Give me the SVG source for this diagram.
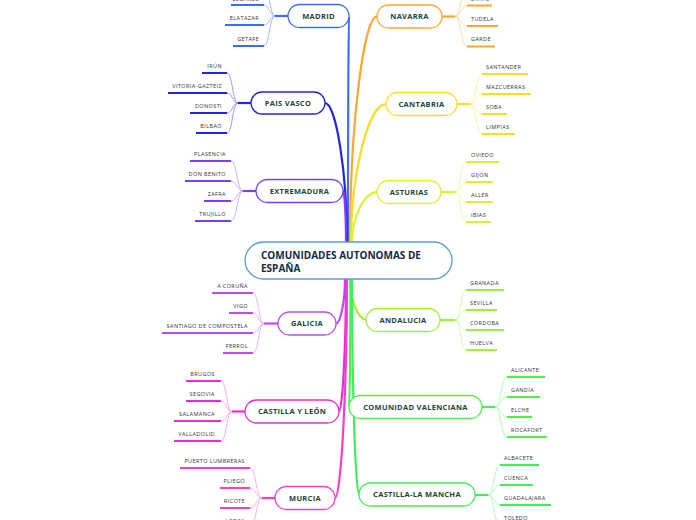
<svg xmlns="http://www.w3.org/2000/svg" width="696" height="520" viewBox="0 0 696 520">
<style>
.bg{fill:#fff}
.n{fill:#fff;stroke-width:1.3}
.t{font-family:"Open Sans","Noto Sans","DejaVu Sans",sans-serif;font-weight:bold;font-size:7.5px;letter-spacing:.3px;fill:#1b4636;text-anchor:middle}
.c{font-family:"Open Sans","Noto Sans","DejaVu Sans",sans-serif;font-size:5.5px;letter-spacing:.4px;fill:#333}
.e{text-anchor:end}
.m{fill:none;stroke-width:2.2}
.k{fill:none;stroke-width:.8}
.u{fill:none;stroke-width:2}
.madrid{stroke:#3f6cf5}.madridL{stroke:#8fa8ff}
.pv{stroke:#2424e8}.pvL{stroke:#8080f5}
.ext{stroke:#7b3ff2}.extL{stroke:#b899f8}
.gal{stroke:#b84cf5}.galL{stroke:#d9a3fa}
.cyl{stroke:#ee2ad8}.cylL{stroke:#f596ec}
.mur{stroke:#ff3cc8}.murL{stroke:#ff9de3}
.nav{stroke:#ffa631}.navL{stroke:#ffd197}
.can{stroke:#ffdc1f}.canL{stroke:#ffed8f}
.ast{stroke:#d6f52b}.astL{stroke:#eafa95}
.and{stroke:#9cf23a}.andL{stroke:#cdf89c}
.val{stroke:#4cf04c}.valL{stroke:#a5f7a5}
.clm{stroke:#3def5a}.clmL{stroke:#9ef7ab}
</style>
<rect class="bg" x="0" y="0" width="696" height="520"/>
<g id="connectors">
<path class="m madrid" d="M348,242 C348,129 348.5,16 349,16"/>
<path class="m pv" d="M347,242 C347,172.5 336,103 325,103"/>
<path class="m ext" d="M346,242 C346,216 344.5,190.5 343,190.5"/>
<path class="m nav" d="M350,242 C350,129 363.5,16.5 377,16.5"/>
<path class="m can" d="M351,242 C351,173 368.5,104 386,104"/>
<path class="m ast" d="M352,242 C352,217 364.5,192 377,192"/>
<path class="m gal" d="M345,279 C345,301 340.5,323.5 336,323.5"/>
<path class="m cyl" d="M346,279 C346,345 342.5,411.5 339,411.5"/>
<path class="m mur" d="M347,279 C347,388 341,498 335,498"/>
<path class="m and" d="M350,279 C350,299.5 358,319.5 366,319.5"/>
<path class="m val" d="M350.5,279 C350.5,343 349.7,407 349,407"/>
<path class="m clm" d="M352,279 C352,387 355.5,494.5 359,494.5"/>
<path class="m madrid" d="M288,16 H275"/>
<path class="m pv" d="M251,103 H238"/>
<path class="m ext" d="M256,191 H243"/>
<path class="m gal" d="M278,323.5 H264"/>
<path class="m cyl" d="M245,411.5 H232"/>
<path class="m mur" d="M275,498 H262"/>
<path class="m nav" d="M442,16.5 H455"/>
<path class="m can" d="M457,104 H470"/>
<path class="m ast" d="M441,192 H455"/>
<path class="m and" d="M440,320 H455"/>
<path class="m val" d="M482,407 H495"/>
<path class="m clm" d="M475,495 H488"/>
<g class="k madridL">
<path d="M275,16 C269.5,16 269.5,-16 264,-16"/>
<path d="M275,16 C269.5,16 269.5,5 264,5"/>
<path d="M275,16 C269.5,16 269.5,25 264,25"/>
<path d="M275,16 C269.5,16 269.5,46 264,46"/>
</g>
<g class="k pvL">
<path d="M238,103 C232.5,103 232.5,73 227,73"/>
<path d="M238,103 C232.5,103 232.5,93 227,93"/>
<path d="M238,103 C232.5,103 232.5,113 227,113"/>
<path d="M238,103 C232.5,103 232.5,133 227,133"/>
</g>
<g class="k extL">
<path d="M243,191 C237,191 237,161 231,161"/>
<path d="M243,191 C237,191 237,181 231,181"/>
<path d="M243,191 C237,191 237,201 231,201"/>
<path d="M243,191 C237,191 237,221 231,221"/>
</g>
<g class="k galL">
<path d="M264,323.5 C258.5,323.5 258.5,293 253,293"/>
<path d="M264,323.5 C258.5,323.5 258.5,313 253,313"/>
<path d="M264,323.5 C258.5,323.5 258.5,333 253,333"/>
<path d="M264,323.5 C258.5,323.5 258.5,353 253,353"/>
</g>
<g class="k cylL">
<path d="M232,411.5 C226.5,411.5 226.5,381 221,381"/>
<path d="M232,411.5 C226.5,411.5 226.5,401 221,401"/>
<path d="M232,411.5 C226.5,411.5 226.5,421 221,421"/>
<path d="M232,411.5 C226.5,411.5 226.5,441 221,441"/>
</g>
<g class="k murL">
<path d="M262,498 C256,498 256,468 250,468"/>
<path d="M262,498 C256,498 256,488 250,488"/>
<path d="M262,498 C256,498 256,508 250,508"/>
<path d="M262,498 C256,498 256,528 250,528"/>
</g>
<g class="k navL">
<path d="M455,16.5 C461,16.5 461,-14.5 467,-14.5"/>
<path d="M455,16.5 C461,16.5 461,5.5 467,5.5"/>
<path d="M455,16.5 C461,16.5 461,26 467,26"/>
<path d="M455,16.5 C461,16.5 461,46.5 467,46.5"/>
</g>
<g class="k canL">
<path d="M470,104 C476,104 476,74 482,74"/>
<path d="M470,104 C476,104 476,94 482,94"/>
<path d="M470,104 C476,104 476,114 482,114"/>
<path d="M470,104 C476,104 476,134 482,134"/>
</g>
<g class="k astL">
<path d="M455,192 C460.5,192 460.5,162 466,162"/>
<path d="M455,192 C460.5,192 460.5,182 466,182"/>
<path d="M455,192 C460.5,192 460.5,202 466,202"/>
<path d="M455,192 C460.5,192 460.5,222 466,222"/>
</g>
<g class="k andL">
<path d="M455,320 C460.5,320 460.5,290 466,290"/>
<path d="M455,320 C460.5,320 460.5,310 466,310"/>
<path d="M455,320 C460.5,320 460.5,330 466,330"/>
<path d="M455,320 C460.5,320 460.5,350 466,350"/>
</g>
<g class="k valL">
<path d="M495,407 C501,407 501,377 507,377"/>
<path d="M495,407 C501,407 501,397 507,397"/>
<path d="M495,407 C501,407 501,417 507,417"/>
<path d="M495,407 C501,407 501,437 507,437"/>
</g>
<g class="k clmL">
<path d="M488,495 C494,495 494,465 500,465"/>
<path d="M488,495 C494,495 494,485 500,485"/>
<path d="M488,495 C494,495 494,505 500,505"/>
<path d="M488,495 C494,495 494,525 500,525"/>
</g>
</g>

<g id="central">
<rect class="n" x="245" y="242" width="207" height="37" rx="18.5" stroke="#5b9bd5"/>
<text x="261" y="258.5" font-family="'Open Sans','Noto Sans',sans-serif" font-weight="bold" font-size="10" fill="#0e2a47">COMUNIDADES AUTONOMAS DE</text>
<text x="261" y="272" font-family="'Open Sans','Noto Sans',sans-serif" font-weight="bold" font-size="10" fill="#0e2a47">ESPAÑA</text>
</g>

<g id="madrid"><rect class="n madrid" x="288" y="4.5" width="61" height="23" rx="11.5"/><text class="t" x="318.5" y="19.2">MADRID</text></g>
<g id="paisvasco"><rect class="n pv" x="251" y="92" width="74" height="22" rx="11"/><text class="t" x="288" y="105.8">PAIS VASCO</text></g>
<g id="extremadura"><rect class="n ext" x="256" y="179.5" width="87" height="23" rx="11.5"/><text class="t" x="299.5" y="193.8">EXTREMADURA</text></g>
<g id="galicia"><rect class="n gal" x="278" y="312" width="58" height="23" rx="11.5"/><text class="t" x="307" y="326.3">GALICIA</text></g>
<g id="castillayleon"><rect class="n cyl" x="245" y="400" width="94" height="23" rx="11.5"/><text class="t" x="292" y="414.3">CASTILLA Y LEÓN</text></g>
<g id="murcia"><rect class="n mur" x="275" y="486.5" width="60" height="23" rx="11.5"/><text class="t" x="305" y="500.8">MURCIA</text></g>
<g id="navarra"><rect class="n nav" x="377" y="5" width="65" height="23" rx="11.5"/><text class="t" x="409.5" y="19.3">NAVARRA</text></g>
<g id="cantabria"><rect class="n can" x="386" y="92.5" width="71" height="23" rx="11.5"/><text class="t" x="421.5" y="106.8">CANTABRIA</text></g>
<g id="asturias"><rect class="n ast" x="377" y="180.5" width="64" height="23" rx="11.5"/><text class="t" x="409" y="194.8">ASTURIAS</text></g>
<g id="andalucia"><rect class="n and" x="366" y="308.5" width="74" height="23" rx="11.5"/><text class="t" x="403" y="322.8">ANDALUCIA</text></g>
<g id="valenciana"><rect class="n val" x="349" y="395.5" width="133" height="23" rx="11.5"/><text class="t" x="415.5" y="409.8">COMUNIDAD VALENCIANA</text></g>
<g id="castillalamancha"><rect class="n clm" x="359" y="483" width="116" height="23" rx="11.5"/><text class="t" x="417" y="497.3">CASTILLA-LA MANCHA</text></g>

<g id="madrid-children">
<g id="leganes"><path class="u madrid" d="M231,5 H264"/><text class="c e" x="259" y="0.8">LEGANÉS</text></g>
<g id="elatazar"><path class="u madrid" d="M225,25 H264"/><text class="c e" x="259" y="19.5">ELATAZAR</text></g>
<g id="getafe"><path class="u madrid" d="M233,46 H264"/><text class="c e" x="259" y="40.5">GETAFE</text></g>
</g>
<g id="pv-children">
<g id="irun"><path class="u pv" d="M202,73 H227"/><text class="c e" x="222" y="67.5">IRÚN</text></g>
<g id="vitoria"><path class="u pv" d="M168,93 H227"/><text class="c e" x="222" y="87.5">VITORIA-GAZTEIZ</text></g>
<g id="donosti"><path class="u pv" d="M190,113 H227"/><text class="c e" x="222" y="107.5">DONOSTI</text></g>
<g id="bilbao"><path class="u pv" d="M196,133 H227"/><text class="c e" x="222" y="127.5">BILBAO</text></g>
</g>
<g id="ext-children">
<g id="plasencia"><path class="u ext" d="M190,161 H231"/><text class="c e" x="226" y="155.5">PLASENCIA</text></g>
<g id="donbenito"><path class="u ext" d="M185,181 H231"/><text class="c e" x="226" y="175.5">DON BENITO</text></g>
<g id="zafra"><path class="u ext" d="M204,201 H231"/><text class="c e" x="226" y="195.5">ZAFRA</text></g>
<g id="trujillo"><path class="u ext" d="M195,221 H231"/><text class="c e" x="226" y="215.5">TRUJILLO</text></g>
</g>
<g id="gal-children">
<g id="acoruna"><path class="u gal" d="M212,293 H253"/><text class="c e" x="248" y="287.5">A CORUÑA</text></g>
<g id="vigo"><path class="u gal" d="M229,313 H253"/><text class="c e" x="248" y="307.5">VIGO</text></g>
<g id="santiago"><path class="u gal" d="M162,333 H253"/><text class="c e" x="248" y="327.5">SANTIAGO DE COMPOSTELA</text></g>
<g id="ferrol"><path class="u gal" d="M223,353 H253"/><text class="c e" x="248" y="347.5">FERROL</text></g>
</g>
<g id="cyl-children">
<g id="brugos"><path class="u cyl" d="M186,381 H221"/><text class="c e" x="215" y="375.5">BRUGOS</text></g>
<g id="segovia"><path class="u cyl" d="M186,401 H221"/><text class="c e" x="215" y="395.5">SEGOVIA</text></g>
<g id="salamanca"><path class="u cyl" d="M174,421 H221"/><text class="c e" x="215" y="415.5">SALAMANCA</text></g>
<g id="valladolid"><path class="u cyl" d="M174,441 H221"/><text class="c e" x="215" y="435.5">VALLADOLID</text></g>
</g>
<g id="mur-children">
<g id="puerto"><path class="u mur" d="M180,468 H250"/><text class="c e" x="245" y="462.5">PUERTO LUMBRERAS</text></g>
<g id="pliego"><path class="u mur" d="M220,488 H250"/><text class="c e" x="245" y="482.5">PLIEGO</text></g>
<g id="ricote"><path class="u mur" d="M220,508 H250"/><text class="c e" x="245" y="502.5">RICOTE</text></g>
<g id="lorca"><path class="u mur" d="M222,528 H250"/><text class="c e" x="245" y="522.5">LORCA</text></g>
</g>
<g id="nav-children">
<g id="etayo"><path class="u nav" d="M467,5.5 H492"/><text class="c" x="471" y="1">ETAYO</text></g>
<g id="tudela"><path class="u nav" d="M467,26 H498"/><text class="c" x="471" y="20.5">TUDELA</text></g>
<g id="garde"><path class="u nav" d="M467,46.5 H495"/><text class="c" x="471" y="41">GARDE</text></g>
</g>
<g id="can-children">
<g id="santander"><path class="u can" d="M482,74 H528"/><text class="c" x="486" y="68.5">SANTANDER</text></g>
<g id="mazcuerras"><path class="u can" d="M482,94 H531"/><text class="c" x="486" y="88.5">MAZCUERRAS</text></g>
<g id="soba"><path class="u can" d="M482,114 H507"/><text class="c" x="486" y="108.5">SOBA</text></g>
<g id="limpias"><path class="u can" d="M482,134 H515"/><text class="c" x="486" y="128.5">LIMPIAS</text></g>
</g>
<g id="ast-children">
<g id="oviedo"><path class="u ast" d="M466,162 H499"/><text class="c" x="471" y="156.5">OVIEDO</text></g>
<g id="gijon"><path class="u ast" d="M466,182 H493"/><text class="c" x="471" y="176.5">GIJÓN</text></g>
<g id="aller"><path class="u ast" d="M466,202 H493"/><text class="c" x="471" y="196.5">ALLER</text></g>
<g id="ibias"><path class="u ast" d="M466,222 H491"/><text class="c" x="471" y="216.5">IBIAS</text></g>
</g>
<g id="and-children">
<g id="granada"><path class="u and" d="M466,290 H504"/><text class="c" x="470" y="284.5">GRANADA</text></g>
<g id="sevilla"><path class="u and" d="M466,310 H497"/><text class="c" x="470" y="304.5">SEVILLA</text></g>
<g id="cordoba"><path class="u and" d="M466,330 H504"/><text class="c" x="470" y="324.5">CÓRDOBA</text></g>
<g id="huelva"><path class="u and" d="M466,350 H497"/><text class="c" x="470" y="344.5">HUELVA</text></g>
</g>
<g id="val-children">
<g id="alicante"><path class="u val" d="M507,377 H545"/><text class="c" x="511" y="371.5">ALICANTE</text></g>
<g id="gandia"><path class="u val" d="M507,397 H540"/><text class="c" x="511" y="391.5">GANDÍA</text></g>
<g id="elche"><path class="u val" d="M507,417 H532"/><text class="c" x="511" y="411.5">ELCHE</text></g>
<g id="rocafort"><path class="u val" d="M507,437 H547"/><text class="c" x="511" y="431.5">ROCAFORT</text></g>
</g>
<g id="clm-children">
<g id="albacete"><path class="u clm" d="M500,465 H539"/><text class="c" x="504" y="459.5">ALBACETE</text></g>
<g id="cuenca"><path class="u clm" d="M500,485 H533"/><text class="c" x="504" y="479.5">CUENCA</text></g>
<g id="guadalajara"><path class="u clm" d="M500,505 H551"/><text class="c" x="504" y="499.5">GUADALAJARA</text></g>
<g id="toledo"><path class="u clm" d="M500,525 H534"/><text class="c" x="504" y="519.5">TOLEDO</text></g>
</g>
</svg>
